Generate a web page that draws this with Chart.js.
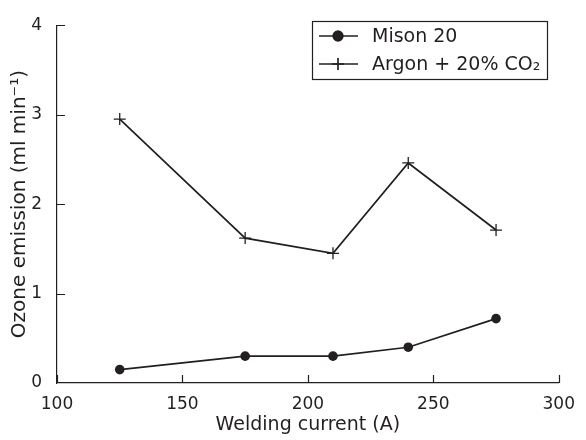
<!DOCTYPE html>
<html lang="en">
<head>
<meta charset="utf-8"/>
<title>Ozone emission vs welding current</title>
<script src="https://cdn.jsdelivr.net/npm/chart.js"></script>
<style>
    body { margin: 0; background: #fff; }
    canvas { display: block; }
  </style>
</head>
<body>
<canvas id="ozoneChart" width="586" height="440"></canvas>
<script>
    // welding current (A)
    const current = [125, 175, 210, 240, 275];
    // ozone emission (ml/min)
    const misonValues = [0.15, 0.30, 0.30, 0.40, 0.72];
    const argonValues = [2.95, 1.62, 1.45, 2.46, 1.71];
    const seriesLabels = ['Mison 20', 'Argon + 20% CO\u2082'];
    const xTicks = [100, 150, 200, 250, 300];
    const yTicks = [0, 1, 2, 3, 4];

    const ink = '#231f20';
    const font = 'DejaVu Sans';

    const toPoints = vals => vals.map((v, i) => ({ x: current[i], y: v }));

    // inward tick marks on both axes
    const innerTicks = {
      id: 'innerTicks',
      afterDraw(chart) {
        const ctx = chart.ctx;
        const xs = chart.scales.x, ys = chart.scales.y;
        ctx.save();
        ctx.strokeStyle = ink;
        ctx.lineWidth = 1.2;
        ctx.beginPath();
        xTicks.forEach(t => {
          const px = Math.round(xs.getPixelForValue(t)) + 0.5;
          ctx.moveTo(px, ys.bottom);
          ctx.lineTo(px, ys.bottom - 8);
        });
        yTicks.forEach(t => {
          if (t === 0) return;
          const py = Math.round(ys.getPixelForValue(t)) + 0.5;
          ctx.moveTo(xs.left, py);
          ctx.lineTo(xs.left + 8, py);
        });
        ctx.stroke();
        ctx.restore();
      }
    };

    // boxed legend in the upper right
    const boxLegend = {
      id: 'boxLegend',
      afterDraw(chart) {
        const ctx = chart.ctx;
        const bx = 312, by = 21, bw = 235, bh = 58;
        ctx.save();
        ctx.strokeStyle = ink;
        ctx.lineWidth = 1.2;
        ctx.strokeRect(bx + 0.5, by + 0.5, bw, bh);
        chart.data.datasets.forEach((ds, i) => {
          const y = by + 15 + i * 28;
          ctx.strokeStyle = ink;
          ctx.lineWidth = 1.7;
          ctx.beginPath();
          ctx.moveTo(bx + 7, y);
          ctx.lineTo(bx + 46, y);
          ctx.stroke();
          ctx.fillStyle = ink;
          Chart.helpers.drawPoint(ctx, {
            pointStyle: ds.pointStyle,
            radius: ds.pointRadius,
            borderWidth: ds.pointBorderWidth || 1.2,
            rotation: 0
          }, bx + 26, y);
          ctx.fillStyle = ink;
          ctx.font = '19px "' + font + '"';
          ctx.textBaseline = 'middle';
          ctx.textAlign = 'left';
          ctx.fillText(ds.label, bx + 60, y + 1);
        });
        ctx.restore();
      }
    };

    new Chart(document.getElementById('ozoneChart'), {
      type: 'line',
      data: {
        datasets: [
          {
            label: seriesLabels[0],
            data: toPoints(misonValues),
            borderColor: ink,
            backgroundColor: ink,
            borderWidth: 1.7,
            pointStyle: 'circle',
            pointRadius: 4.8,
            pointBackgroundColor: ink,
            pointBorderColor: ink,
            pointBorderWidth: 0,
            tension: 0
          },
          {
            label: seriesLabels[1],
            data: toPoints(argonValues),
            borderColor: ink,
            backgroundColor: ink,
            borderWidth: 1.7,
            pointStyle: 'cross',
            pointRadius: 6,
            pointBorderColor: ink,
            pointBorderWidth: 1.3,
            tension: 0
          }
        ]
      },
      options: {
        responsive: false,
        animation: false,
        layout: { padding: { top: 14, right: 24, left: 0, bottom: 0 } },
        plugins: {
          legend: { display: false },
          tooltip: { enabled: false }
        },
        scales: {
          x: {
            type: 'linear',
            min: 100, max: 300,
            afterBuildTicks: s => { s.ticks = xTicks.map(v => ({ value: v })); },
            afterFit: s => { s.height = 57; },
            grid: { display: false, drawTicks: false },
            border: { display: true, color: ink, width: 1.2 },
            ticks: { color: ink, padding: 11, font: { family: font, size: 17 } },
            title: {
              display: true, text: 'Welding current (A)', color: ink,
              font: { family: font, size: 19 }, padding: { top: 0, bottom: 4 }
            }
          },
          y: {
            type: 'linear',
            min: 0, max: 4,
            afterBuildTicks: s => { s.ticks = yTicks.map(v => ({ value: v })); },
            afterFit: s => { s.width = 57; },
            grid: { display: false, drawTicks: false },
            border: { display: true, color: ink, width: 1.2 },
            ticks: { color: ink, padding: 15, font: { family: font, size: 17 } },
            title: {
              display: true, text: 'Ozone emission (ml min\u207B\u00B9)', color: ink,
              font: { family: font, size: 20 }, padding: { top: 8, bottom: 0 }
            }
          }
        }
      },
      plugins: [innerTicks, boxLegend]
    });
  </script>
</body>
</html>
